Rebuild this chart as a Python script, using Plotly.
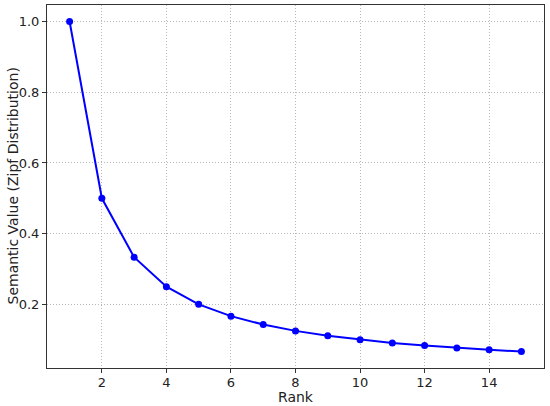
import plotly.graph_objects as go

ranks = [1, 2, 3, 4, 5, 6, 7, 8, 9, 10, 11, 12, 13, 14, 15]
values = [1.0, 0.5, 0.3333, 0.25, 0.2, 0.1667, 0.1429, 0.125, 0.1111, 0.1,
          0.0909, 0.0833, 0.0769, 0.0714, 0.0667]
x_ticks = [2, 4, 6, 8, 10, 12, 14]
y_ticks = [0.2, 0.4, 0.6, 0.8, 1.0]

fig = go.Figure()
fig.add_trace(go.Scatter(
    x=ranks, y=values, mode="lines+markers",
    line=dict(color="#0000ff", width=2),
    marker=dict(color="#0000ff", size=7),
    showlegend=False,
))

axis_common = dict(
    showline=True, linecolor="#333333", linewidth=1, mirror=True,
    ticks="outside", ticklen=4, tickcolor="#333333",
    showgrid=True, gridcolor="#b8b8b8", griddash="1px,2px", gridwidth=0.8,
    zeroline=False, automargin=False,
    tickfont=dict(family="DejaVu Sans", size=13, color="#222222"),
)

fig.update_xaxes(range=[0.3, 15.7], tickvals=x_ticks, ticklabelstandoff=-2,
                 ticktext=[str(v) for v in x_ticks], **axis_common)
fig.update_yaxes(range=[0.02, 1.0467], tickvals=y_ticks,
                 ticktext=[f"{v:.1f}" for v in y_ticks], **axis_common)

title_font = dict(family="DejaVu Sans", size=14, color="#222222")
fig.add_annotation(text="Rank", xref="paper", yref="paper", x=0.5, y=-0.079,
                   xanchor="center", yanchor="middle", showarrow=False, font=title_font)
fig.add_annotation(text="Semantic Value (Zipf Distribution)", xref="paper", yref="paper",
                   x=-0.0704, y=0.5, xanchor="center", yanchor="middle", textangle=-90,
                   showarrow=False, font=title_font)

fig.update_layout(
    width=550, height=406,
    margin=dict(l=47, r=6, t=5, b=38),
    plot_bgcolor="white", paper_bgcolor="white",
)

fig.write_html("out.html", config={"displayModeBar": False},
               post_script="document.body.style.margin='0';")
